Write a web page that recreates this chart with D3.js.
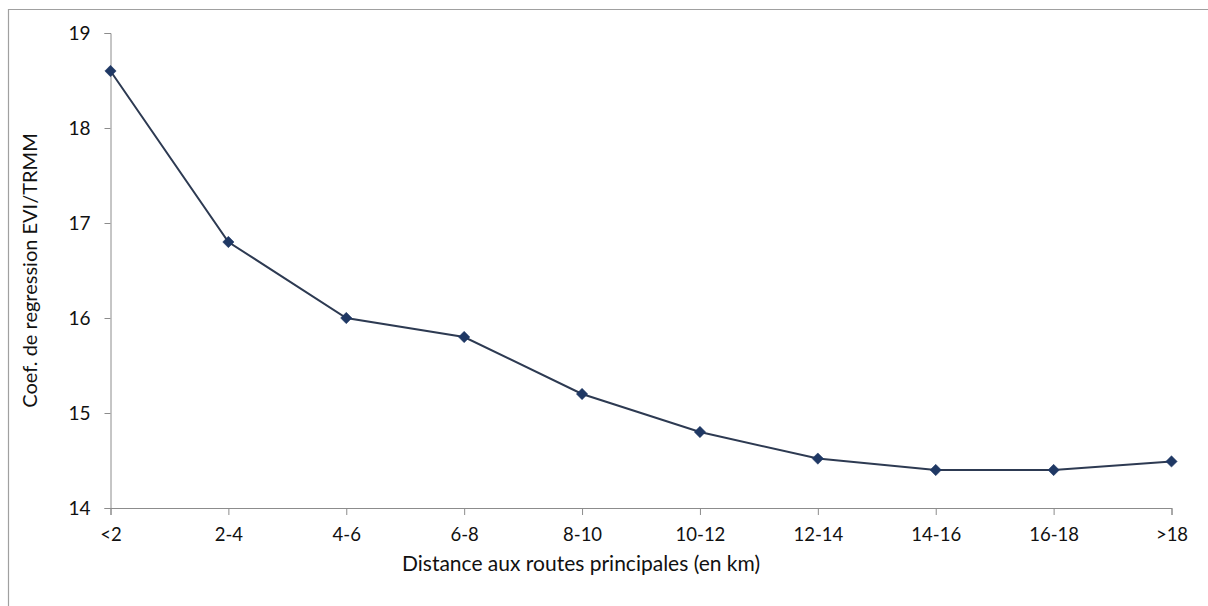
<!DOCTYPE html>
<html>
<head>
<meta charset="utf-8">
<script src="https://cdn.jsdelivr.net/npm/d3@7"></script>
<style>
  html, body { margin: 0; padding: 0; background: #fff; }
  svg { display: block; }
  text { font-family: Lato, "Open Sans", sans-serif; fill: #111; }
</style>
</head>
<body>
<svg id="chart" width="1208" height="606"></svg>
<script>
const categories = ["<2", "2-4", "4-6", "6-8", "8-10", "10-12", "12-14", "14-16", "16-18", ">18"];
const values = [18.6, 16.8, 16.0, 15.8, 15.2, 14.8, 14.52, 14.4, 14.4, 14.49];
const yTicks = [14, 15, 16, 17, 18, 19];
const xTitle = "Distance aux routes principales (en km)";
const yTitle = "Coef. de regression EVI/TRMM";

const svg = d3.select("#chart");
const W = 1208, H = 606;
const m = { left: 110.5, right: 1171.5, top: 33, bottom: 508 };

// outer frame (partially visible)
svg.append("path")
  .attr("d", `M8.5,${H} L8.5,9.5 L${W},9.5`)
  .attr("fill", "none").attr("stroke", "#a0a0a0").attr("stroke-width", 1.2);

const x = d3.scalePoint().domain(categories).range([m.left, m.right]);
const y = d3.scaleLinear().domain([14, 19]).range([m.bottom, m.top]);

const axisColor = "#8c8c8c";

// Y axis
const gy = svg.append("g").attr("transform", `translate(${m.left},0)`)
  .call(d3.axisLeft(y).tickValues(yTicks).tickSize(6).tickPadding(14).tickFormat(d3.format("d")));
gy.select(".domain").attr("stroke", axisColor);
gy.selectAll(".tick line").attr("stroke", axisColor);
gy.selectAll(".tick text").style("font-size", "19px").style("font-family", "Lato, sans-serif").attr("fill", "#111");

// X axis
const gx = svg.append("g").attr("transform", `translate(0,${m.bottom})`)
  .call(d3.axisBottom(x).tickSize(7).tickPadding(13));
gx.select(".domain").attr("stroke", axisColor);
gx.selectAll(".tick line").attr("stroke", axisColor);
gx.selectAll(".tick text").style("font-size", "18.5px").style("font-family", "Lato, sans-serif").attr("fill", "#111");

// line
const data = categories.map((c, i) => ({ c, v: values[i] }));
svg.append("path").datum(data)
  .attr("fill", "none").attr("stroke", "#2d3a52").attr("stroke-width", 2)
  .attr("d", d3.line().x(d => x(d.c)).y(d => y(d.v)));

// diamond markers
svg.selectAll(".mk").data(data).enter().append("path")
  .attr("class", "mk")
  .attr("d", d3.symbol(d3.symbolSquare, 64)())
  .attr("transform", d => `translate(${x(d.c)},${y(d.v)}) rotate(45)`)
  .attr("fill", "#1f3864").attr("stroke", "#1f3864").attr("stroke-width", 0.5);

// titles
svg.append("text").attr("x", 581).attr("y", 571)
  .attr("text-anchor", "middle").style("font-size", "21px").text(xTitle);
svg.append("text").attr("transform", `translate(37,${(m.top + m.bottom) / 2}) rotate(-90)`)
  .attr("text-anchor", "middle").style("font-size", "20px").text(yTitle);
</script>
</body>
</html>
